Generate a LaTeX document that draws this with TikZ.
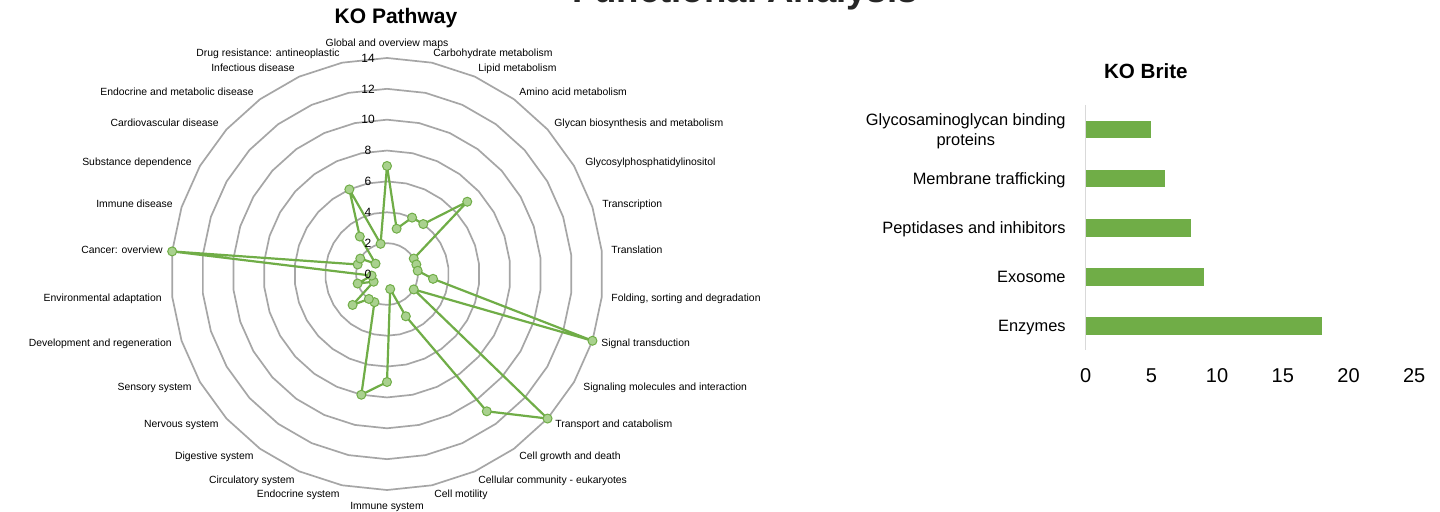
\documentclass[tikz,border=0pt]{standalone}
\usepackage{fontspec}
\setmainfont{Liberation Sans}
\definecolor{kgreen}{HTML}{70AD47}
\definecolor{dotgreen}{HTML}{A9D18E}
\definecolor{ringgray}{HTML}{A6A6A6}
\definecolor{axgray}{HTML}{D9D9D9}
\definecolor{headgray}{HTML}{262626}
\def\radunit{15.43}
\begin{document}
\begin{tikzpicture}[x=0.5pt,y=-0.5pt,
  ring/.style={draw=ringgray,line width=0.85pt},
  dataline/.style={draw=kgreen,line width=1.1pt,line join=round},
  dot/.style={circle,draw=kgreen,fill=dotgreen,line width=0.5pt,minimum size=4.5pt,inner sep=0pt},
  catlab/.style={font=\fontsize{5.2pt}{6pt}\selectfont,inner sep=0pt,text height=3.7pt,text depth=0pt},
  ringlab/.style={font=\fontsize{6pt}{7pt}\selectfont,inner sep=0pt,text height=4.3pt,text depth=0pt},
  ttl/.style={font=\bfseries\fontsize{10.5pt}{12pt}\selectfont,inner sep=0pt},
  barlab/.style={font=\fontsize{8.2pt}{9.65pt}\selectfont,inner sep=0pt,anchor=east},
  onebar/.style={text height=5.9pt,text depth=0pt},
  ticklab/.style={font=\fontsize{10pt}{12pt}\selectfont,inner sep=0pt,text height=7.2pt,text depth=0pt},
  barfill/.style={fill=kgreen}]
\useasboundingbox (0,0) rectangle (1440,512);
\fill[white] (0,0) rectangle (1440,512);

% cropped page heading
\node[font=\bfseries\fontsize{18.3pt}{20pt}\selectfont,text=headgray,anchor=base,inner sep=0pt] (head) at (745,3) {Functional Analysis};

% ---------- KO Pathway radar ----------
\node[ttl] (t1) at (396,18) {KO Pathway};
\begin{scope}[shift={(387,274)}]
  \foreach \k in {1,...,7}
    \draw[ring] (-90:{2*\k*\radunit}) \foreach \i in {1,...,29}{ -- ({12*\i-90}:{2*\k*\radunit}) } -- cycle;
  \foreach \v [count=\i from 0] in {7,3,4,4,7,2,2,2,3,14,2,14,11,3,1,7,8,2,2,3,1,2,1,14,2,2,1,3,6,2}
    \coordinate (p\i) at ({12*\i-90}:{\v*\radunit});
  \draw[dataline] (p0) \foreach \i in {1,...,29}{ -- (p\i) } -- cycle;
  \foreach \i in {0,...,29} \node[dot] (m\i) at (p\i) {};
  \foreach \k in {0,...,7} \node[ringlab] (r\k) at (-19,{-2*\k*\radunit}) {\number\numexpr2*\k\relax};
\end{scope}

% category labels
\node[catlab] (c0) at (387,43) {Global and overview maps};
\node[catlab,anchor=west] (c1) at (433,53) {Carbohydrate metabolism};
\node[catlab,anchor=west] (c2) at (478,68) {Lipid metabolism};
\node[catlab,anchor=west] (c3) at (519,92) {Amino acid metabolism};
\node[catlab,anchor=west] (c4) at (554,123) {Glycan biosynthesis and metabolism};
\node[catlab,anchor=west] (c5) at (585,162) {Glycosylphosphatidylinositol};
\node[catlab,anchor=west] (c6) at (602,204) {Transcription};
\node[catlab,anchor=west] (c7) at (611,250) {Translation};
\node[catlab,anchor=west] (c8) at (611,298) {Folding, sorting and degradation};
\node[catlab,anchor=west] (c9) at (601,343) {Signal transduction};
\node[catlab,anchor=west] (c10) at (583,387) {Signaling molecules and interaction};
\node[catlab,anchor=west] (c11) at (555,424) {Transport and catabolism};
\node[catlab,anchor=west] (c12) at (519,456) {Cell growth and death};
\node[catlab,anchor=west] (c13) at (478,480) {Cellular community - eukaryotes};
\node[catlab,anchor=west] (c14) at (434,494) {Cell motility};
\node[catlab] (c15) at (387,506) {Immune system};
\node[catlab,anchor=east] (c16) at (340,494) {Endocrine system};
\node[catlab,anchor=east] (c17) at (295,480) {Circulatory system};
\node[catlab,anchor=east] (c18) at (254,456) {Digestive system};
\node[catlab,anchor=east] (c19) at (219,424) {Nervous system};
\node[catlab,anchor=east] (c20) at (192,387) {Sensory system};
\node[catlab,anchor=east] (c21) at (172,343) {Development and regeneration};
\node[catlab,anchor=east] (c22) at (162,298) {Environmental adaptation};
\node[catlab,anchor=east] (c23) at (163,250) {Cancer: overview};
\node[catlab,anchor=east] (c24) at (173,204) {Immune disease};
\node[catlab,anchor=east] (c25) at (192,162) {Substance dependence};
\node[catlab,anchor=east] (c26) at (219,123) {Cardiovascular disease};
\node[catlab,anchor=east] (c27) at (254,92) {Endocrine and metabolic disease};
\node[catlab,anchor=east] (c28) at (295,68) {Infectious disease};
\node[catlab,anchor=east] (c29) at (340,53) {Drug resistance: antineoplastic};

% ---------- KO Brite bar chart ----------
\node[font=\bfseries\fontsize{10.3pt}{12pt}\selectfont,inner sep=0pt] (t2) at (1145.8,70.7) {KO Brite};
\foreach \v/\t [count=\j] in {5/121,6/170,8/219.3,9/268.3,18/317.3}
  \fill[barfill] (1086,\t) rectangle ({1085.7+13.14*\v},{\t+17.3});
\draw[axgray,line width=0.6pt] (1085.7,105) -- (1085.7,350);
\foreach \v in {0,5,10,15,20,25}
  \node[ticklab] (tk\v) at ({1085.7+13.14*\v},375) {\v};
\node[barlab] (bl1) at (1066,131.7) {\begin{tabular}{@{}c@{}}Glycosaminoglycan binding\\proteins\end{tabular}};
\node[barlab,onebar] (bl2) at (1066,178.3) {Membrane trafficking};
\node[barlab,onebar] (bl3) at (1066,227.7) {Peptidases and inhibitors};
\node[barlab,onebar] (bl4) at (1066,276.7) {Exosome};
\node[barlab,onebar] (bl5) at (1066,325.7) {Enzymes};
\end{tikzpicture}
\end{document}
